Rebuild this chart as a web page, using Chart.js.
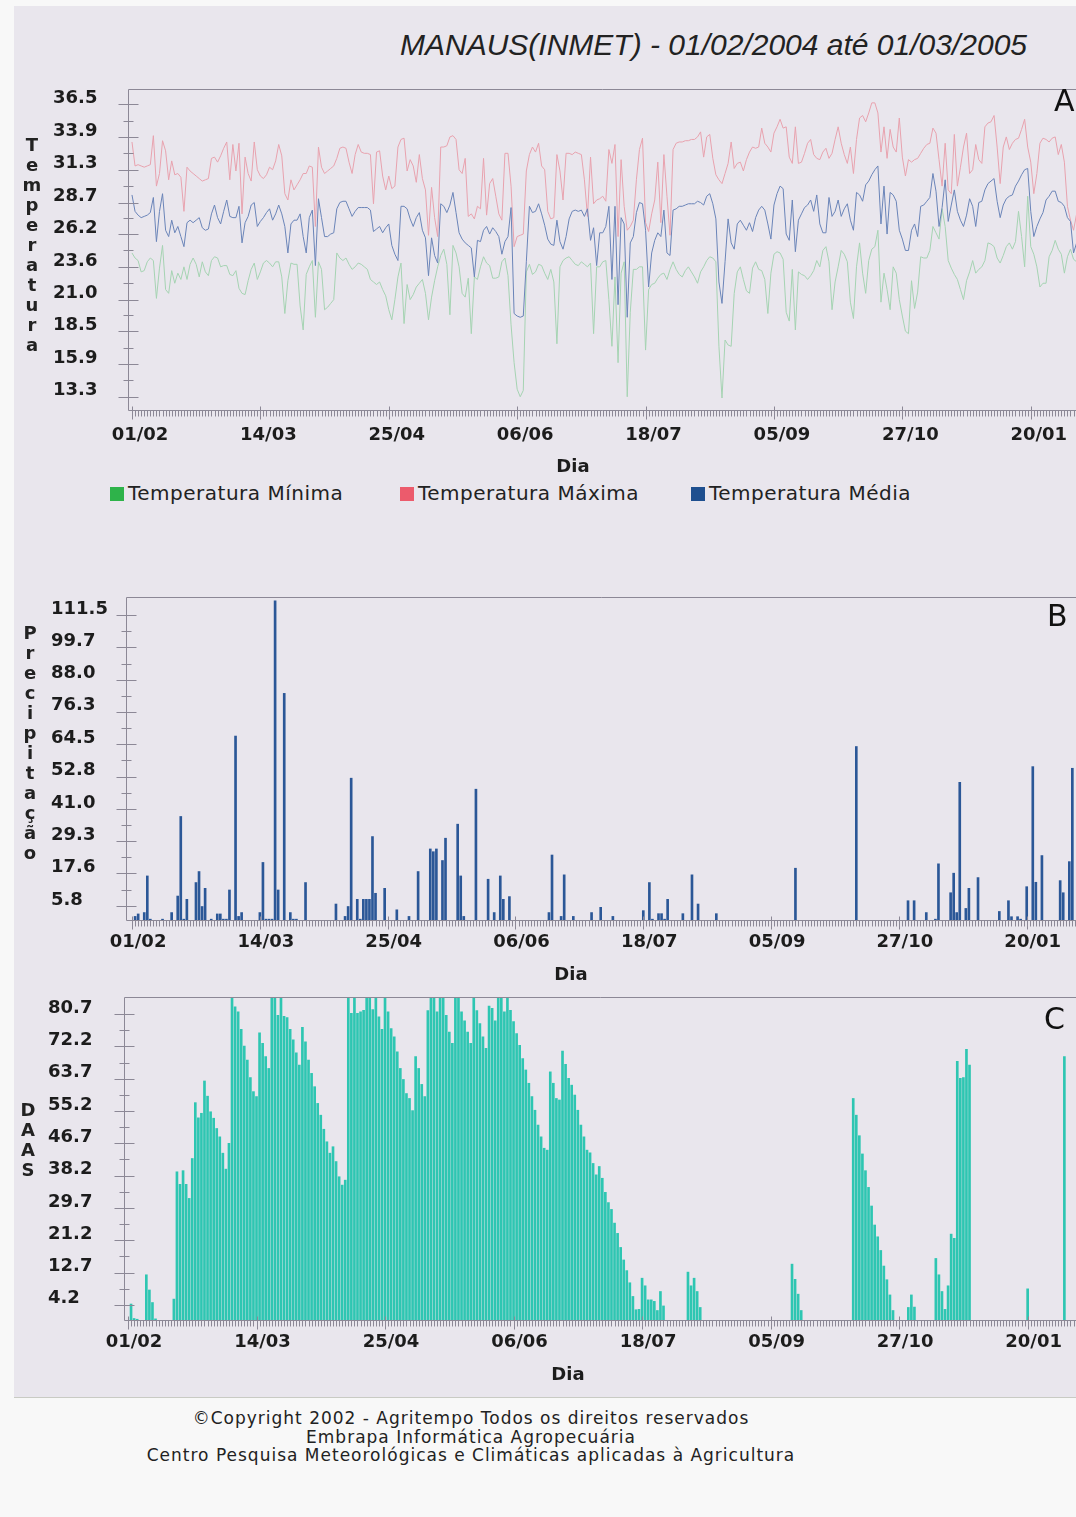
<!DOCTYPE html>
<html lang="pt-BR">
<head>
<meta charset="utf-8">
<title>Manaus (INMET) - 01/02/2004 até 01/03/2005</title>
<script src="https://cdn.jsdelivr.net/npm/chart.js@4.4.1/dist/chart.umd.min.js"></script>
<style>
  html, body { margin: 0; padding: 0; background: #f8f8f8; }
  #folha { position: relative; width: 1076px; height: 1517px; overflow: hidden; font-family: "DejaVu Sans", sans-serif; color: #1c1c1c; }
  #fundo { position: absolute; left: 14px; top: 6px; width: 1062px; height: 1391px; background: #e9e6ed; border-bottom: 1px solid #c9cbc4; }
  canvas { position: absolute; left: 0; }
  #titulo { position: absolute; left: 0; top: 27px; width: 1027px; text-align: right; font: italic 30px "Liberation Sans", Arial, sans-serif; line-height: 36px; color: #222; }
  .vertical { position: absolute; width: 22px; text-align: center; font: bold 18px "DejaVu Sans", sans-serif; line-height: 20px; color: #222; }
  .painel { position: absolute; font: 30px "DejaVu Sans", sans-serif; line-height: 30px; color: #111; }
  .dia { position: absolute; width: 80px; text-align: center; font: bold 18px "DejaVu Sans", sans-serif; line-height: 22px; color: #1c1c1c; }
  #legenda { position: absolute; left: 0; top: 482px; width: 1076px; height: 24px; font: 20px "DejaVu Sans", sans-serif; letter-spacing: 0.5px; line-height: 22px; color: #222; }
  #legenda span { position: absolute; top: 0; white-space: nowrap; }
  #legenda i { display: inline-block; width: 14px; height: 14px; margin-right: 4px; vertical-align: -1px; }
  #rodape { position: absolute; left: 0; top: 1409px; width: 942px; text-align: center; font: 17px "DejaVu Sans", sans-serif; letter-spacing: 1px; line-height: 18.5px; color: #222; }
</style>
</head>
<body>
<div id="folha">
  <div id="fundo"></div>
  <div id="titulo">MANAUS(INMET) - 01/02/2004 até 01/03/2005</div>
  <canvas id="graficoA" width="1076" height="400" style="top:80px"></canvas>
  <canvas id="graficoB" width="1076" height="398" style="top:590px"></canvas>
  <canvas id="graficoC" width="1076" height="400" style="top:988px"></canvas>
  <div class="painel" style="left:1054px;top:86px">A</div>
  <div class="painel" style="left:1047px;top:601px">B</div>
  <div class="painel" style="left:1044px;top:1004px">C</div>
  <div class="dia" style="left:533px;top:455px">Dia</div>
  <div class="dia" style="left:531px;top:963px">Dia</div>
  <div class="dia" style="left:528px;top:1363px">Dia</div>
  <div id="legenda">
    <span style="left:110px"><i style="background:#2eb34a"></i>Temperatura Mínima</span>
    <span style="left:400px"><i style="background:#ec5b6c"></i>Temperatura Máxima</span>
    <span style="left:691px"><i style="background:#1e4f8f"></i>Temperatura Média</span>
  </div>
  <div id="rodape">©Copyright 2002 - Agritempo Todos os direitos reservados<br>Embrapa Informática Agropecuária<br>Centro Pesquisa Meteorológicas e Climáticas aplicadas à Agricultura</div>
</div>
<script>
// Dias marcados no eixo X (índice do dia na série) e seus rótulos
const diasRotulo = [0, 42, 84, 126, 168, 210, 252, 294];
const rotulosX = ['01/02', '14/03', '25/04', '06/06', '18/07', '05/09', '27/10', '20/01'];

// Marcas dos eixos Y
const ticksTemp = [36.5, 33.9, 31.3, 28.7, 26.2, 23.6, 21.0, 18.5, 15.9, 13.3];
const ticksChuva = [111.5, 99.7, 88.0, 76.3, 64.5, 52.8, 41.0, 29.3, 17.6, 5.8];
const ticksDaas = [80.7, 72.2, 63.7, 55.2, 46.7, 38.2, 29.7, 21.2, 12.7, 4.2];

// Temperatura máxima diária (°C)
const tempMax = [
  33.5, 31.6, 31.7, 31.6, 31.5, 31.6, 31.7, 34.0, 30.0, 31.0,
  33.6, 32.8, 30.5, 32.0, 30.9, 31.0, 30.7, 28.0, 31.5, 31.2,
  31.0, 30.8, 30.6, 30.4, 30.5, 30.6, 32.2, 32.3, 31.9, 32.4,
  33.0, 33.5, 30.5, 33.3, 31.2, 33.4, 27.8, 32.3, 31.0, 30.4,
  33.5, 31.3, 30.8, 30.6, 30.9, 31.5, 31.3, 32.0, 33.3, 32.4,
  29.4, 28.9, 30.5, 29.7, 30.1, 30.5, 31.0, 31.0, 31.6, 31.5,
  26.8, 33.1, 31.5, 31.0, 31.2, 31.4, 31.6, 32.2, 33.0, 33.1,
  33.0, 31.9, 31.0, 32.5, 33.3, 32.7, 32.6, 32.6, 32.5, 28.6,
  32.7, 32.8, 30.8, 29.7, 30.8, 29.8, 30.0, 33.1, 33.7, 33.8,
  31.2, 32.1, 31.6, 30.3, 32.5, 30.6, 29.7, 26.1, 29.9, 27.5,
  26.0, 33.1, 33.1, 33.2, 33.9, 34.0, 33.7, 31.3, 31.0, 32.2,
  27.6, 27.8, 27.4, 28.4, 28.2, 32.2, 27.7, 30.2, 30.6, 29.2,
  27.8, 27.3, 32.6, 32.6, 30.0, 25.2, 26.0, 26.1, 26.2, 31.2,
  32.5, 33.1, 32.7, 33.4, 31.6, 31.3, 28.0, 27.4, 27.5, 32.5,
  31.2, 28.9, 32.6, 32.6, 32.5, 32.7, 32.6, 32.5, 30.5, 27.6,
  32.3, 28.6, 28.9, 29.0, 29.2, 28.8, 32.9, 31.8, 33.3, 26.0,
  32.1, 28.4, 26.5, 26.8, 27.3, 30.5, 32.9, 33.8, 27.1, 26.4,
  27.8, 28.9, 31.9, 27.1, 32.5, 29.2, 26.1, 32.9, 33.4, 33.5,
  33.5, 33.6, 33.6, 33.7, 33.7, 33.9, 34.3, 32.3, 33.9, 34.1,
  32.2, 30.9, 30.5, 30.2, 31.0, 31.8, 33.5, 31.4, 31.8, 31.9,
  31.2, 32.1, 32.7, 33.1, 33.0, 33.1, 34.6, 33.4, 33.1, 32.7,
  34.2, 34.7, 35.3, 34.6, 34.7, 32.3, 31.8, 34.7, 31.8, 31.9,
  32.6, 33.4, 33.7, 32.5, 32.2, 32.1, 32.7, 33.0, 32.2, 32.6,
  33.7, 34.7, 33.4, 32.5, 31.8, 33.1, 31.0, 33.7, 35.4, 35.6,
  35.1, 35.8, 36.6, 36.6, 35.8, 32.7, 34.7, 32.2, 34.5, 33.1,
  32.7, 35.4, 32.3, 30.8, 32.1, 31.9, 32.1, 32.2, 32.6, 33.0,
  33.3, 33.4, 34.6, 34.2, 32.1, 30.0, 33.4, 29.7, 29.4, 34.1,
  30.0, 31.5, 33.1, 34.2, 31.0, 31.3, 33.3, 32.1, 31.8, 34.7,
  35.0, 35.1, 35.6, 33.1, 30.2, 33.1, 33.9, 32.9, 33.4, 33.7,
  33.8, 34.5, 35.3, 33.1, 31.9, 29.4, 31.0, 33.4, 33.8, 33.7,
  33.5, 33.8, 33.9, 32.5, 33.3, 31.9, 28.4, 27.3, 26.5, 27.8,
  29.0
];

// Temperatura média diária (°C)
const tempMedia = [
  29.3, 28.0, 27.7, 27.5, 27.6, 27.7, 27.9, 29.1, 25.6, 28.0,
  29.4, 26.5, 26.0, 27.3, 26.3, 26.8, 26.0, 25.2, 27.1, 27.3,
  27.1, 27.3, 27.5, 26.7, 26.5, 26.6, 27.8, 28.5, 27.5, 27.0,
  28.0, 28.9, 27.6, 27.5, 27.5, 28.4, 25.5, 27.1, 27.6, 28.5,
  28.7, 26.8, 27.2, 27.5, 27.9, 28.2, 27.3, 27.8, 28.5, 27.8,
  26.8, 24.7, 27.0, 27.3, 27.3, 27.8, 26.0, 24.7, 27.5, 28.1,
  23.7, 29.0, 27.5, 26.0, 26.0, 26.2, 26.3, 28.2, 28.7, 28.8,
  28.8, 28.2, 27.6, 28.0, 28.3, 28.3, 28.3, 28.3, 28.1, 26.4,
  26.6, 26.8, 26.3, 26.7, 27.0, 25.3, 24.6, 24.1, 28.4, 28.4,
  28.2, 27.4, 26.8, 27.5, 27.9, 26.5, 25.9, 22.9, 25.9, 24.5,
  23.9, 28.6, 28.4, 27.9, 28.5, 29.5, 27.9, 26.3, 25.8, 25.5,
  25.3, 25.1, 22.8, 25.7, 25.6, 26.5, 26.8, 26.2, 26.7, 26.4,
  26.0, 24.6, 25.6, 26.0, 28.3, 19.9, 19.7, 19.6, 19.7, 24.0,
  28.4, 27.9, 28.0, 28.6, 27.8, 26.9, 25.8, 25.4, 25.3, 27.3,
  25.6, 25.0, 26.0, 27.4, 28.0, 28.1, 28.0, 28.1, 27.6, 28.2,
  25.7, 26.7, 23.7, 26.3, 26.3, 26.8, 28.4, 22.6, 28.4, 20.6,
  27.5, 27.0, 19.6, 25.5, 26.0, 27.9, 28.7, 28.6, 26.5, 22.0,
  24.7, 25.7, 26.3, 26.0, 28.1, 24.7, 24.5, 28.1, 28.2, 28.4,
  28.4, 28.5, 28.6, 28.6, 28.6, 28.8, 28.7, 28.5, 29.2, 29.4,
  28.6, 27.4, 22.4, 20.7, 24.0, 27.4, 25.5, 25.0, 27.0, 27.3,
  26.9, 26.5, 27.1, 26.4, 27.5, 28.1, 28.4, 28.1, 27.0, 25.8,
  28.5, 29.4, 30.0, 29.8, 26.2, 25.7, 28.9, 24.8, 27.3, 27.8,
  28.3, 28.5, 28.9, 28.0, 29.3, 27.0, 26.3, 26.3, 29.1, 27.6,
  28.0, 28.9, 27.6, 28.2, 28.6, 27.3, 26.5, 29.5, 29.3, 28.8,
  30.1, 30.4, 30.9, 31.3, 31.6, 27.0, 30.0, 26.2, 29.5, 29.3,
  28.8, 26.5, 25.8, 24.9, 24.9, 26.5, 27.0, 26.0, 28.4, 28.5,
  28.8, 29.1, 31.0, 29.6, 26.8, 28.3, 30.5, 27.2, 28.5, 29.7,
  28.0, 27.3, 26.8, 27.7, 29.0, 28.4, 26.8, 28.7, 28.8, 29.7,
  30.2, 30.4, 30.6, 28.8, 27.5, 28.5, 29.0, 29.2, 29.3, 30.0,
  30.4, 30.9, 31.3, 31.4, 28.0, 26.0, 26.8, 27.4, 27.9, 28.9,
  29.2, 29.6, 29.6, 28.8, 28.7, 28.4, 27.5, 27.2, 24.7, 25.5,
  26.6
];

// Temperatura mínima diária (°C)
const tempMin = [
  24.7, 24.3, 24.1, 23.2, 23.3, 24.0, 24.3, 24.1, 21.1, 23.5,
  25.3, 21.8, 21.5, 23.3, 22.3, 23.1, 22.6, 23.6, 22.6, 23.8,
  24.3, 23.8, 22.8, 24.0, 23.2, 22.9, 24.1, 24.4, 24.3, 23.6,
  23.7, 23.7, 23.0, 22.9, 23.3, 21.9, 21.5, 21.4, 22.5, 23.4,
  23.9, 22.6, 23.2, 23.9, 24.1, 23.9, 23.6, 24.0, 24.0, 22.8,
  19.9, 22.5, 23.9, 23.8, 23.8, 20.5, 18.6, 23.0, 23.6, 24.1,
  19.6, 24.0, 23.4, 20.2, 20.4, 20.7, 21.0, 24.7, 24.3, 24.1,
  24.3, 23.8, 23.4, 23.6, 23.9, 23.8, 23.6, 23.4, 22.6, 22.4,
  22.2, 22.4, 21.8, 21.3, 20.2, 19.4, 21.0, 22.8, 23.9, 19.1,
  22.2, 21.0, 21.4, 22.0, 22.3, 22.6, 21.5, 19.4, 21.2, 22.5,
  23.6, 24.5, 25.0, 23.8, 19.8, 25.3, 24.7, 23.6, 21.5, 21.2,
  22.7, 18.3, 22.8, 22.6, 23.6, 24.4, 23.9, 23.7, 22.7, 22.7,
  22.8, 24.0, 24.3, 22.9, 19.0, 16.0, 13.9, 13.3, 13.8, 23.2,
  23.8, 23.0, 23.2, 23.8, 23.7, 23.1, 22.6, 23.4, 22.4, 17.5,
  23.6, 24.1, 24.3, 24.4, 24.1, 23.8, 23.7, 24.0, 23.8, 23.6,
  23.9, 18.3, 23.6, 23.6, 24.0, 24.1, 21.0, 17.3, 22.8, 16.0,
  23.1, 24.0, 13.3, 20.0, 23.4, 23.4, 23.6, 23.6, 17.0, 21.8,
  22.2, 22.3, 22.7, 23.0, 23.1, 22.6, 23.4, 24.0, 23.4, 23.0,
  22.8, 23.3, 23.6, 23.2, 22.8, 22.3, 23.2, 23.6, 24.1, 24.4,
  24.3, 24.0, 17.3, 13.2, 17.8, 17.4, 17.3, 21.5, 23.2, 23.6,
  22.6, 21.7, 21.5, 23.5, 24.0, 23.4, 23.3, 22.6, 19.9, 23.1,
  24.6, 24.8, 24.7, 24.2, 20.0, 19.3, 23.4, 18.6, 23.2, 23.0,
  22.9, 22.6, 22.9, 23.3, 24.1, 23.6, 24.9, 25.2, 24.0, 20.2,
  22.4, 23.6, 24.9, 24.6, 24.0, 20.8, 19.5, 23.6, 25.5, 23.1,
  21.5, 24.1, 25.0, 25.2, 26.5, 20.8, 23.1, 21.8, 20.2, 23.6,
  23.1, 21.0, 19.7, 18.5, 18.3, 22.5, 20.3, 21.6, 24.4, 24.3,
  24.3, 24.9, 26.8, 26.3, 25.8, 28.2, 26.8, 24.1, 23.5, 23.0,
  22.6, 21.8, 21.0, 22.5, 23.2, 24.1, 23.1, 23.4, 23.6, 24.1,
  25.5, 25.4, 25.2, 24.3, 23.9, 24.5, 25.2, 25.5, 25.0, 25.6,
  28.0, 26.0, 23.6, 29.2, 25.2, 24.6, 23.6, 22.0, 22.3, 22.3,
  24.4, 24.9, 25.7, 25.0, 24.6, 23.1, 24.4, 25.0, 24.2, 24.0,
  23.8
];

// Precipitação (mm): dias com chuva e totais
const chuvaDias = [
  1, 2, 4, 5, 6, 10, 13, 15, 16, 17, 18, 21, 22, 23, 24, 26, 28, 29, 30, 31,
  32, 34, 35, 36, 42, 43, 44, 45, 46, 47, 48, 50, 52, 53, 54, 57, 67, 70, 71, 72,
  74, 75, 76, 77, 78, 79, 80, 83, 87, 91, 94, 98, 99, 100, 102, 103, 107, 108, 109, 113,
  117, 119, 121, 122, 124, 137, 138, 141, 142, 145, 151, 154, 158, 168, 170, 171, 173, 174, 175, 176,
  181, 184, 186, 192, 218, 238, 247, 255, 257, 261, 264, 265, 269, 270, 271, 272, 274, 275, 278, 285,
  288, 289, 291, 292, 294, 296, 297, 299, 305, 306, 307, 308, 309
];
const chuvaMm = [
  2.0, 2.9, 3.4, 16.7, 1.0, 1.0, 3.4, 9.4, 38.3, 1.0, 8.2, 14.3, 18.3, 5.6, 12.2, 1.0, 2.9, 2.9, 1.0, 1.0,
  11.6, 67.5, 2.0, 3.4, 3.4, 21.6, 1.0, 1.0, 1.0, 116.6, 11.6, 83.0, 3.4, 1.0, 1.0, 14.3, 6.5, 2.0, 5.6, 52.2,
  8.2, 1.0, 8.2, 8.2, 8.2, 31.0, 10.4, 12.2, 4.4, 2.0, 18.3, 26.5, 25.5, 26.5, 22.3, 30.4, 35.5, 16.7, 2.0, 48.2,
  15.5, 3.4, 16.7, 8.2, 9.2, 3.4, 24.3, 2.0, 17.1, 2.0, 3.4, 5.3, 2.0, 4.1, 14.3, 1.0, 3.0, 3.0, 1.0, 8.2,
  3.0, 17.1, 6.5, 3.0, 19.5, 63.7, 0.5, 7.7, 7.7, 3.4, 1.0, 21.1, 10.6, 17.7, 3.4, 50.7, 4.9, 12.2, 16.1, 3.8,
  7.7, 1.9, 1.9, 1.0, 12.8, 56.4, 14.4, 24.1, 15.0, 10.6, 0.5, 21.9, 55.8
];

// DAAS diário
const daas = [
  0, 4.4, 0.6, 0.4, 0, 0, 12.1, 8.1, 4.8, 0.5,
  0, 0, 0, 0, 0, 5.7, 39.2, 35.9, 39.5, 35.9,
  32.2, 42.7, 57.4, 53.4, 54.6, 63.1, 59.1, 55.0, 53.3, 50.6,
  48.4, 44.1, 39.9, 46.7, 85, 82.6, 81.3, 76.7, 72.3, 68.6,
  64.0, 60.3, 59.0, 75.8, 73.0, 69.5, 66.4, 85, 85, 80.4,
  85, 80.1, 79.8, 76.7, 73.9, 70.5, 67.3, 77.2, 73.4, 68.6,
  65.1, 61.6, 57.2, 54.1, 50.4, 47.1, 44.1, 45.8, 41.9, 37.9,
  35.7, 37.0, 85, 80.9, 85, 80.9, 81.3, 81.7, 85, 85,
  81.9, 85, 80.0, 76.7, 85, 81.3, 76.9, 74.7, 70.8, 66.4,
  63.5, 59.8, 58.5, 55.3, 69.5, 66.4, 62.2, 59.0, 81.6, 85,
  85, 81.3, 85, 85, 80.4, 76.0, 73.0, 85, 85, 81.3,
  78.9, 76.0, 73.0, 85, 81.6, 78.2, 74.7, 71.7, 82.8, 82.2,
  78.9, 85, 85, 81.3, 85, 81.7, 78.7, 75.6, 72.5, 69.0,
  66.0, 62.5, 59.0, 55.4, 51.5, 48.4, 45.4, 44.9, 65.5, 62.5,
  58.5, 58.1, 71.0, 67.5, 63.8, 62.0, 59.4, 55.4, 51.5, 48.4,
  44.9, 44.2, 41.4, 38.4, 40.6, 37.5, 33.8, 31.1, 29.3, 25.7,
  23.0, 19.3, 16.0, 13.2, 10.0, 6.4, 2.9, 3.0, 11.2, 9.2,
  5.5, 5.5, 5.1, 2.7, 7.7, 3.9, 0, 0, 0, 0,
  0, 0, 0, 12.8, 9.2, 11.2, 7.7, 3.5, 0, 0,
  0, 0, 0, 0, 0, 0, 0, 0, 0, 0,
  0, 0, 0, 0, 0, 0, 0, 0, 0, 0,
  0, 0, 0, 0, 0, 0, 0, 14.9, 10.9, 7.0,
  2.7, 0, 0, 0, 0, 0, 0, 0, 0, 0,
  0, 0, 0, 0, 0, 0, 0, 58.5, 54.1, 48.7,
  43.9, 39.5, 35.1, 30.2, 25.2, 22.1, 18.5, 14.4, 10.8, 6.8,
  2.7, 0, 0, 0, 0, 3.5, 6.8, 3.6, 0, 0,
  0, 0, 0, 0, 16.4, 12.1, 7.7, 3.0, 9.2, 22.8,
  21.7, 68.3, 63.8, 64.0, 71.4, 67.3, 0, 0, 0, 0,
  0, 0, 0, 0, 0, 0, 0, 0, 0, 0,
  0, 0, 0, 0, 8.4, 0, 0, 0, 0, 0,
  0, 0, 0, 0, 0, 0, 69.5, 0, 0, 0,
  0
];

const corEixo = '#8c8896';
const fonteEixo = { family: 'DejaVu Sans', size: 18, weight: 'bold' };

// Moldura superior, eixos e marcas (principais e intermediárias / diárias)
const marcas = {
  id: 'marcas',
  afterDatasetsDraw(chart) {
    const { ctx, chartArea: a, scales: { x, y } } = chart;
    const L = Math.round(a.left) + 0.5;
    const T = Math.round(a.top) + 0.5;
    const B = Math.round(a.bottom) + 0.5;
    ctx.save();
    ctx.strokeStyle = corEixo;
    ctx.lineWidth = 1;
    ctx.beginPath();
    ctx.moveTo(L, T); ctx.lineTo(a.right, T);
    ctx.moveTo(L, T); ctx.lineTo(L, B);
    ctx.moveTo(L, B); ctx.lineTo(a.right, B);
    const vals = y.ticks.map(t => t.value);
    vals.forEach((v, i) => {
      const py = Math.round(y.getPixelForValue(v)) + 0.5;
      ctx.moveTo(L - 10, py); ctx.lineTo(L + 10, py);
      if (i + 1 < vals.length) {
        const pm = Math.round(y.getPixelForValue((v + vals[i + 1]) / 2)) + 0.5;
        ctx.moveTo(L - 5, pm); ctx.lineTo(L + 5, pm);
      }
    });
    const principais = x.ticks.map(t => t.value);
    for (let d = 0; d <= x.max; d++) {
      const px = Math.round(x.getPixelForValue(d)) + 0.5;
      if (principais.includes(d)) {
        ctx.moveTo(px, B - 4); ctx.lineTo(px, B + 9);
      } else {
        ctx.moveTo(px, B); ctx.lineTo(px, B + 6);
      }
    }
    ctx.stroke();
    ctx.restore();
  }
};

function eixoX(min, max, padRotulo, desloc, alturaEixo) {
  return {
    type: 'linear', min, max, bounds: 'data', offset: false,
    afterBuildTicks: s => { s.ticks = diasRotulo.map(v => ({ value: v })); },
    afterFit: s => { s.height = alturaEixo; s.paddingLeft = 0; s.paddingRight = 0; },
    grid: { display: false, drawTicks: false },
    border: { display: false },
    ticks: {
      autoSkip: false, maxRotation: 0, minRotation: 0,
      padding: padRotulo, labelOffset: desloc,
      color: '#1c1c1c', font: fonteEixo,
      callback: (v, i) => rotulosX[i]
    }
  };
}

function eixoY(min, max, valores, largura) {
  return {
    min, max, bounds: 'data',
    afterBuildTicks: s => { s.ticks = valores.map(v => ({ value: v })); },
    afterFit: s => { s.width = largura; s.paddingTop = 0; s.paddingBottom = 0; },
    grid: { display: false, drawTicks: false },
    border: { display: false },
    ticks: {
      crossAlign: 'far', padding: 0, labelOffset: -6,
      color: '#1c1c1c', font: fonteEixo,
      callback: v => v.toFixed(1)
    }
  };
}

function opcoesBase(esq, topo) {
  return {
    responsive: false,
    animation: false,
    events: [],
    layout: { padding: { left: esq, top: topo, right: 0, bottom: 0 } },
    plugins: { legend: { display: false }, tooltip: { enabled: false } }
  };
}

const pontos = serie => serie.map((v, i) => ({ x: i, y: v }));

// A: temperaturas
new Chart(document.getElementById('graficoA'), {
  type: 'line',
  data: {
    datasets: [
      { label: 'Temperatura Média', data: pontos(tempMedia), borderColor: '#6a84b8', borderWidth: 1, pointRadius: 0, tension: 0 },
      { label: 'Temperatura Máxima', data: pontos(tempMax), borderColor: '#e8a2ae', borderWidth: 1, pointRadius: 0, tension: 0 },
      { label: 'Temperatura Mínima', data: pontos(tempMin), borderColor: '#a5d3b2', borderWidth: 1, pointRadius: 0, tension: 0 }
    ]
  },
  options: {
    ...opcoesBase(53, 9),
    scales: { x: eixoX(-1.3, 308.8, 15, 8, 70), y: eixoY(12.25, 37.7, ticksTemp, 75) }
  },
  plugins: [marcas]
});

// B: precipitação
new Chart(document.getElementById('graficoB'), {
  type: 'bar',
  data: {
    datasets: [{
      label: 'Precipitação',
      data: chuvaDias.map((d, i) => ({ x: d, y: chuvaMm[i] })),
      backgroundColor: '#2b5797', barThickness: 2
    }]
  },
  options: {
    ...opcoesBase(51, 7),
    scales: { x: eixoX(-2, 310.2, 12, 6, 68), y: eixoY(0.7, 118, ticksChuva, 75) }
  },
  plugins: [marcas]
});

// C: DAAS
new Chart(document.getElementById('graficoC'), {
  type: 'bar',
  data: {
    datasets: [{
      label: 'DAAS',
      data: pontos(daas),
      backgroundColor: '#2ec6b2', barThickness: 2
    }]
  },
  options: {
    ...opcoesBase(48, 9),
    scales: { x: eixoX(-1.3, 309.8, 12, 6, 68), y: eixoY(0.2, 85.2, ticksDaas, 76) }
  },
  plugins: [marcas]
});

// Títulos verticais dos eixos Y, uma letra por linha
const folha = document.getElementById('folha');
function rotuloVertical(texto, x, topo) {
  const el = document.createElement('div');
  el.className = 'vertical';
  el.style.left = x + 'px';
  el.style.top = topo + 'px';
  for (const ch of texto) {
    const l = document.createElement('div');
    l.textContent = ch;
    el.appendChild(l);
  }
  folha.appendChild(el);
}
rotuloVertical('Temperatura', 21, 135);
rotuloVertical('Precipitação', 19, 623);
rotuloVertical('DAAS', 17, 1100);
</script>
</body>
</html>
